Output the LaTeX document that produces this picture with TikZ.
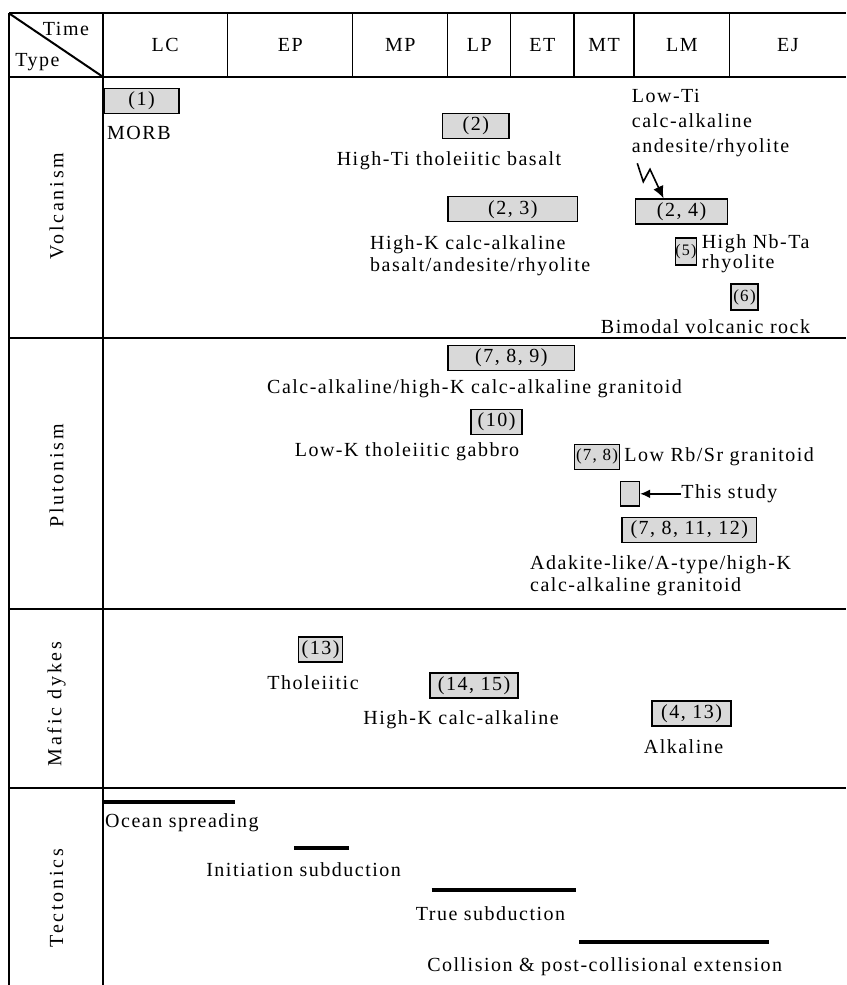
\documentclass[tikz,border=0pt]{standalone}
\usepackage{fontspec}
\setmainfont{Liberation Serif}[LetterSpace=7.5]
\newfontfamily\rowfont{Liberation Serif}[LetterSpace=14]
\usepackage{tikz}
\usetikzlibrary{positioning,arrows.meta}
\pgfkeys{tikz/grid/.style={line width=2pt}}
\pgfkeys{tikz/colsep/.style={line width=1.2pt}}
\pgfkeys{tikz/refbox/.style={draw,line width=1.4pt,fill=gray!30,inner sep=0pt,minimum height=25pt,font=\fontsize{20}{24}\selectfont}}
\pgfkeys{tikz/rocklabel/.style={inner sep=0pt,font=\fontsize{20}{24}\selectfont}}
\pgfkeys{tikz/rowlabel/.style={rotate=90,inner sep=0pt,font=\rowfont\fontsize{20}{24}\selectfont}}
\pgfkeys{tikz/bar/.style={line width=4pt}}

\begin{document}
\begin{tikzpicture}[x=1pt,y=-1pt]
  \useasboundingbox[fill=white] (0,0) rectangle (846,985);

  \draw[grid] (9,13.3) -- (846,13.3);
  \draw[grid] (9,76.7) -- (846,76.7);
  \foreach \yr in {338.3,608.7,787.7} \draw[grid] (9,\yr) -- (846,\yr);
  \draw[grid] (9,13.3) -- (9,985);
  \draw[grid] (102.7,13.3) -- (102.7,985);
  \draw[grid] (9,13.3) -- (102.7,76.7);
  \foreach \xc in {227.7,352.7,447.7,510.7,574,634,729.7} \draw[colsep] (\xc,13.3) -- (\xc,76.7);

  \node[rocklabel] (time) at (66,28.5) {Time};
  \node[rocklabel] (type) at (37.5,62) {Type};
  \foreach \per/\xc in {LC/165.2,EP/290.2,MP/400.2,LP/479.2,ET/542.3,MT/604,LM/681.8,EJ/787.9}
    \node[rocklabel] (h\per) at (\xc,45) {\per};

  \node[rowlabel] (volc) at (56.5,206) {Volcanism};
  \node[rowlabel] (pluto) at (56.5,476) {Plutonism};
  \node[rowlabel] (dykes) at (56.5,704) {Mafic dykes};
  \node[rowlabel] (tect) at (56.5,898) {Tectonics};

  \node[refbox,minimum width=75pt] (b1) at (141.5,101) {(1)};
  \node[rocklabel,anchor=west] (morb) at (107,132.7) {MORB};
  \node[refbox,minimum width=66.5pt] (b2) at (475.8,125.7) {(2)};
  \node[rocklabel] (hiti) at (449,161) {High-Ti tholeiitic basalt};
  \node[rocklabel,anchor=west,align=left,font=\fontsize{20}{25}\selectfont] (loti) at (631.7,123.3) {Low-Ti\\calc-alkaline\\andesite/rhyolite};
  \node[refbox,minimum width=129.5pt] (b23) at (512.8,209.2) {(2, 3)};
  \node[refbox,minimum width=92pt] (b24) at (681.5,211.4) {(2, 4)};
  \node[rocklabel,anchor=west,align=left,font=\fontsize{20}{21.7}\selectfont] (hik) at (370,255.8) {High-K calc-alkaline\\basalt/andesite/rhyolite};
  \node[refbox,minimum width=20.3pt,minimum height=27pt,font=\fontsize{16}{20}\selectfont] (b5) at (686,251.5) {(5)};
  \node[rocklabel,anchor=west,align=left,font=\fontsize{20}{20}\selectfont] (nbta) at (701.6,253.3) {High Nb-Ta\\rhyolite};
  \node[refbox,minimum width=27pt,minimum height=26pt,font=\fontsize{17}{20}\selectfont] (b6) at (744.5,297) {(6)};
  \node[rocklabel] (bimod) at (705.5,326.7) {Bimodal volcanic rock};

  \coordinate (zig) at (637.3,163.3);
  \draw[line width=1.6pt,-{Latex[length=12pt,width=11pt]}] (zig) -- ++(6,18.4) -- ++(6.7,-12.4) -- ([xshift=-18pt]b24.north);

  \node[refbox,minimum width=126.7pt] (b789) at (511.3,357.8) {(7, 8, 9)};
  \node[rocklabel] (calc) at (474.5,388.3) {Calc-alkaline/high-K calc-alkaline granitoid};
  \node[refbox,minimum width=51pt] (b10) at (496.5,421.8) {(10)};
  \node[rocklabel] (lowk) at (407,451.7) {Low-K tholeiitic gabbro};
  \node[refbox,minimum width=45pt,font=\fontsize{17}{20}\selectfont] (b78) at (597,456.7) {(7, 8)};
  \node[rocklabel,right=4pt of b78] (rbsr) {Low Rb/Sr granitoid};
  \node[refbox,minimum width=19pt,minimum height=24.3pt] (study) at (630,493.8) {};
  \node[rocklabel,right=41pt of study] (thisst) {This study};
  \draw[line width=1.5pt,-{Latex[length=10pt,width=9pt]}] (thisst) -- (study);
  \node[refbox,minimum width=134.6pt] (b7812) at (689.3,529.8) {(7, 8, 11, 12)};
  \node[rocklabel,anchor=west,align=left,font=\fontsize{20}{21.7}\selectfont] (adak) at (530,575.8) {Adakite-like/A-type/high-K\\calc-alkaline granitoid};

  \node[refbox,minimum width=44.3pt] (b13) at (320.5,649.5) {(13)};
  \node[rocklabel] (thol) at (313,682.7) {Tholeiitic};
  \node[refbox,minimum width=88pt] (b1415) at (474,685.5) {(14, 15)};
  \node[rocklabel] (hikd) at (461,719.3) {High-K calc-alkaline};
  \node[refbox,minimum width=79pt] (b413) at (691.5,713.3) {(4, 13)};
  \node[rocklabel] (alk) at (683.5,746.7) {Alkaline};

  \draw[bar] (103.6,802.3) -- (234.8,802.3);
  \node[rocklabel,anchor=west] (ocean) at (105,822.7) {Ocean spreading};
  \draw[bar] (294,848) -- (349,848);
  \node[rocklabel] (init) at (303.6,869.3) {Initiation subduction};
  \draw[bar] (431.7,890) -- (575.8,890);
  \node[rocklabel] (true) at (490.5,913.3) {True subduction};
  \draw[bar] (579,941.7) -- (768.5,941.7);
  \node[rocklabel] (coll) at (604.7,966.7) {Collision \& post-collisional extension};
\end{tikzpicture}
\end{document}
